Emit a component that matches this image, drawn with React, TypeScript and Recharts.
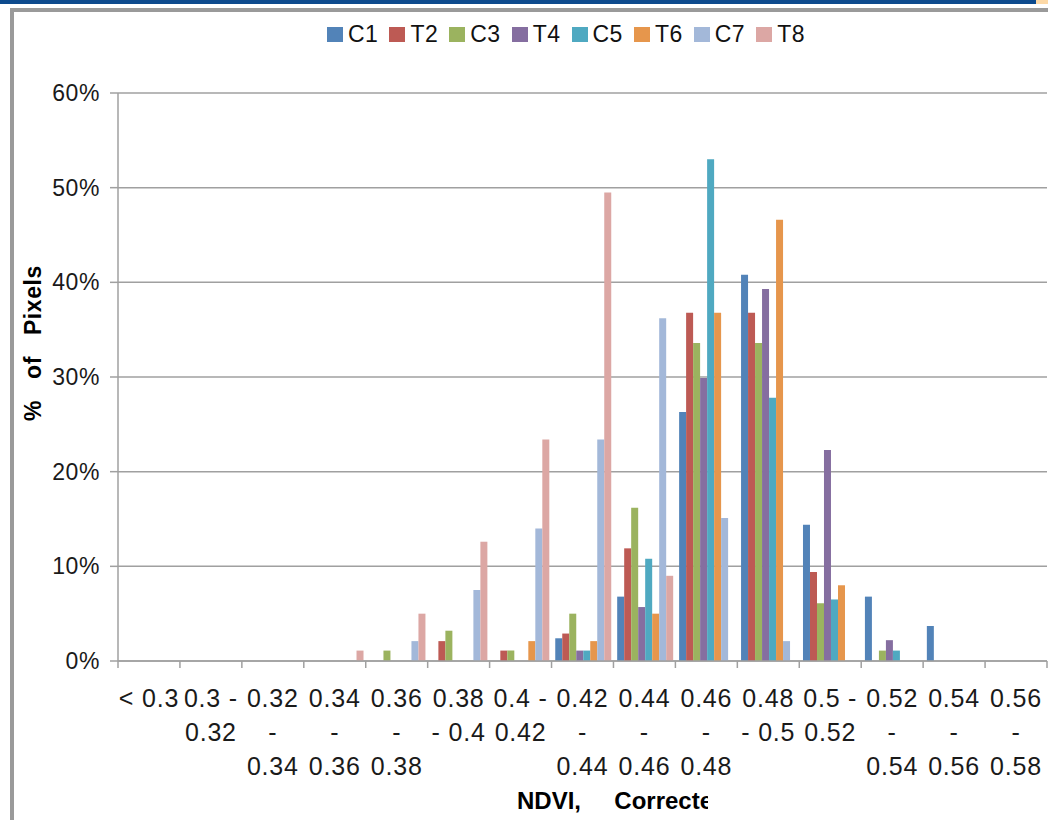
import React from 'react';
import { BarChart, Bar, XAxis, YAxis, CartesianGrid, Legend, Label } from 'recharts';

const categories = [
  '< 0.3', '0.3 - 0.32', '0.32 - 0.34', '0.34 - 0.36', '0.36 - 0.38', '0.38 - 0.4',
  '0.4 - 0.42', '0.42 - 0.44', '0.44 - 0.46', '0.46 - 0.48', '0.48 - 0.5', '0.5 - 0.52',
  '0.52 - 0.54', '0.54 - 0.56', '0.56 - 0.58',
];

const tickLines = [
  ['< 0.3'], ['0.3 -', '0.32'], ['0.32', '-', '0.34'], ['0.34', '-', '0.36'], ['0.36', '-', '0.38'],
  ['0.38', '- 0.4'], ['0.4 -', '0.42'], ['0.42', '-', '0.44'], ['0.44', '-', '0.46'], ['0.46', '-', '0.48'],
  ['0.48', '- 0.5'], ['0.5 -', '0.52'], ['0.52', '-', '0.54'], ['0.54', '-', '0.56'], ['0.56', '-', '0.58'],
];

const C1 = [0, 0, 0, 0, 0, 0, 0, 2.4, 6.8, 26.3, 40.8, 14.4, 6.8, 3.7, 0];
const T2 = [0, 0, 0, 0, 0, 2.1, 1.1, 2.9, 11.9, 36.8, 36.8, 9.4, 0, 0, 0];
const C3 = [0, 0, 0, 0, 1.1, 3.2, 1.1, 5.0, 16.2, 33.6, 33.6, 6.1, 1.1, 0, 0];
const T4 = [0, 0, 0, 0, 0, 0, 0, 1.1, 5.7, 29.9, 39.3, 22.3, 2.2, 0, 0];
const C5 = [0, 0, 0, 0, 0, 0, 0, 1.1, 10.8, 53.0, 27.8, 6.5, 1.1, 0, 0];
const T6 = [0, 0, 0, 0, 0, 0, 2.1, 2.1, 5.0, 36.8, 46.6, 8.0, 0, 0, 0];
const C7 = [0, 0, 0, 0, 2.1, 7.5, 14.0, 23.4, 36.2, 15.1, 2.1, 0, 0, 0, 0];
const T8 = [0, 0, 0, 1.1, 5.0, 12.6, 23.4, 49.5, 9.0, 0, 0, 0, 0, 0, 0];

const yTicks = [0, 10, 20, 30, 40, 50, 60];

const series = [
  { key: 'C1', values: C1, color: '#5283B8' },
  { key: 'T2', values: T2, color: '#BD5A54' },
  { key: 'C3', values: C3, color: '#9BB35F' },
  { key: 'T4', values: T4, color: '#856EA0' },
  { key: 'C5', values: C5, color: '#4FA9C1' },
  { key: 'T6', values: T6, color: '#E6964C' },
  { key: 'C7', values: C7, color: '#A3B8D9' },
  { key: 'T8', values: T8, color: '#DCA7A4' },
];

const data = categories.map((c, i) => {
  const row: Record<string, any> = { category: c };
  series.forEach((s) => {
    row[s.key] = s.values[i];
  });
  return row;
});

const FONT = '"Liberation Sans", Arial, sans-serif';
const GRID = '#a0a0a0';

const CategoryTick = (props: any) => {
  const { x, y, payload, index } = props;
  const lines = tickLines[index] ?? [String(payload.value)];
  const half = payload && payload.offset ? payload.offset : 31;
  return (
    <g>
      <line x1={x - half} x2={x - half} y1={y} y2={y + 7} stroke={GRID} strokeWidth={1.5} />
      {index === categories.length - 1 && (
        <line x1={x + half} x2={x + half} y1={y} y2={y + 7} stroke={GRID} strokeWidth={1.5} />
      )}
      {lines.map((l: string, i: number) => (
        <text
          key={i}
          x={x}
          y={y + 46 + i * 34}
          textAnchor="middle"
          fontSize={25}
          fontFamily={FONT}
          fill="#1a1a1a"
          letterSpacing={0.8}
          style={{ whiteSpace: 'pre' }}
        >
          {l}
        </text>
      ))}
    </g>
  );
};

const LegendContent = () => (
  <div style={{ height: 69, position: 'relative' }}>
    <div style={{ display: 'flex', paddingLeft: 327, alignItems: 'flex-start' }}>
      {series.map((s) => (
        <div key={s.key} style={{ display: 'flex', alignItems: 'center', marginRight: 11 }}>
          <div style={{ width: 16, height: 15, background: s.color, marginRight: 5 }} />
          <span style={{ fontFamily: FONT, fontSize: 23, color: '#111', lineHeight: '20px', letterSpacing: 0.5 }}>
            {s.key}
          </span>
        </div>
      ))}
    </div>
  </div>
);

export default function App() {
  return (
    <div style={{ position: 'absolute', left: 0, top: 0, width: 1060, height: 820, background: '#fff', overflow: 'hidden' }}>
      <div style={{ position: 'absolute', left: 0, top: 0, width: 1036, height: 4, background: '#0d4a8d' }} />
      <div style={{ position: 'absolute', left: 1036, top: 0, width: 12, height: 4, background: '#fdd9a7' }} />
      <div style={{ position: 'absolute', left: 10, top: 8, width: 1038, height: 4, background: '#9a9a9a' }} />
      <div style={{ position: 'absolute', left: 10, top: 8, width: 4, height: 812, background: '#9a9a9a' }} />
      <div style={{ position: 'absolute', left: 0, top: 0 }}>
        <BarChart
          width={1060}
          height={820}
          data={data}
          margin={{ top: 24, right: 13, bottom: 29, left: 18 }}
          barCategoryGap="6%"
          barGap={0}
        >
          <CartesianGrid vertical={false} stroke={GRID} strokeWidth={1.5} />
          <XAxis
            dataKey="category"
            interval={0}
            height={130}
            tickLine={false}
            tickSize={0}
            tickMargin={0}
            axisLine={{ stroke: GRID, strokeWidth: 1.5 }}
            tick={<CategoryTick />}
          >
            <Label
              content={() => (
                <g>
                  <defs>
                    <clipPath id="xlabelClip">
                      <rect x={0} y={760} width={708} height={60} />
                    </clipPath>
                  </defs>
                  <text
                    x={517}
                    y={809}
                    fontSize={24}
                    fontWeight="bold"
                    fontFamily={FONT}
                    fill="#000"
                    clipPath="url(#xlabelClip)"
                    style={{ whiteSpace: 'pre' }}
                  >
                    {'NDVI,     Corrected'}
                  </text>
                </g>
              )}
            />
          </XAxis>
          <YAxis
            width={100}
            domain={[0, 60]}
            ticks={yTicks}
            interval={0}
            tickFormatter={(v: number) => `${v}%`}
            tickSize={8}
            tickMargin={10}
            tickLine={{ stroke: GRID, strokeWidth: 1.5 }}
            axisLine={{ stroke: GRID, strokeWidth: 1.5 }}
            tick={{ fontSize: 23, fontFamily: FONT, fill: '#1a1a1a', letterSpacing: 0.6 }}
          >
            <Label
              content={() => (
                <text
                  transform="translate(41,343) rotate(-90)"
                  textAnchor="middle"
                  fontSize={23}
                  fontWeight="bold"
                  fontFamily={FONT}
                  fill="#000"
                  letterSpacing={0.6}
                  style={{ whiteSpace: 'pre' }}
                >
                  {'%   of   Pixels'}
                </text>
              )}
            />
          </YAxis>
          <Legend verticalAlign="top" align="left" wrapperStyle={{ left: 0, width: 1060 }} content={<LegendContent />} />
          {series.map((s) => (
            <Bar key={s.key} dataKey={s.key} fill={s.color} isAnimationActive={false} />
          ))}
        </BarChart>
      </div>
    </div>
  );
}
